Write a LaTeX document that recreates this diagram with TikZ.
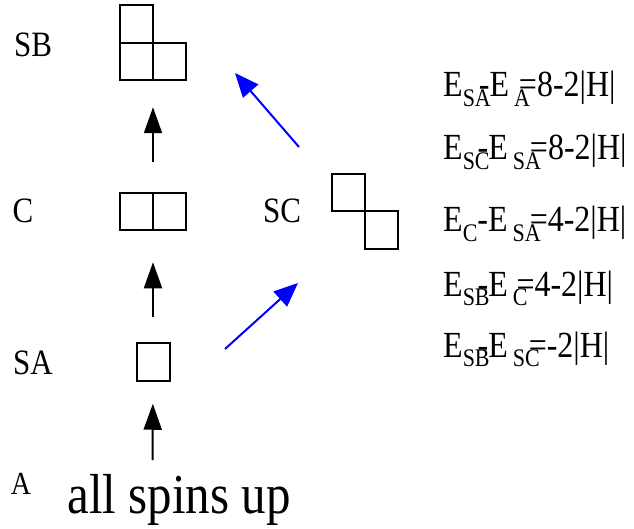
\documentclass[tikz,border=0pt]{standalone}
\usepackage{fontspec}
\usepackage{graphicx}
\setmainfont{Liberation Serif}
\usetikzlibrary{arrows.meta, positioning}

% subscript that is set low and partly run over by what follows
\newcommand{\subE}[2]{\raisebox{-8.5pt}{\fontsize{22}{22}\selectfont #1}\kern-#2}
% the letters of the reference are a little tall
\newcommand{\tall}[1]{\scalebox{1}[1.15]{#1}}

\tikzset{
  cell/.style={draw, line width=2pt, minimum width=33pt, minimum height=37.5pt, inner sep=0pt, outer sep=0pt},
  lbl/.style={font=\fontsize{31}{31}\selectfont, anchor=base, inner sep=0pt},
  eqn/.style={font=\fontsize{32}{32}\selectfont, anchor=base west, inner sep=0pt},
  uparrow/.style={line width=2pt, -{Triangle[length=26pt,width=18pt]}},
  bluearrow/.style={blue, line width=2pt, -{Triangle[length=24pt,width=20pt]}}
}

\begin{document}
\begin{tikzpicture}[x=1pt, y=-1pt]
    \useasboundingbox (0,0) rectangle (634,529);

    % level names
    \node[lbl] (sbname) at (33,57) {\tall{SB}};
    \node[lbl] (cname) at (23,223) {\tall{C}};
    \node[lbl] (scname) at (282,223) {\tall{SC}};
    \node[lbl] (saname) at (33,374) {\tall{SA}};
    \node[lbl, font=\fontsize{28}{28}\selectfont] (aname) at (21,494) {\tall{A}};
    \node[lbl, font=\fontsize{49}{49}\selectfont] (allup) at (179,513) {\tall{all spins up}};

    % spin clusters
    \node[cell] (sb1) at (136.5,24) {};
    \node[cell, below=0pt of sb1] (sb2) {};
    \node[cell, right=0pt of sb2] (sb3) {};
    \node[cell] (c1) at (136.5,211.5) {};
    \node[cell, right=0pt of c1] (c2) {};
    \node[cell] (sa) at (153,362) {};
    \node[cell] (sc1) at (348.5,192.5) {};
    \node[cell, below right=0pt of sc1] (sc2) {};

    % transitions
    \coordinate (abase) at (152.5,460);
    \draw[uparrow, shorten >=23pt] (abase) -- (sa.south);
    \draw[uparrow, shorten <=26pt, shorten >=32pt] (sa.north) -- (c1.south east);
    \draw[uparrow, shorten <=31pt, shorten >=27pt] (c1.north east) -- (sb2.south east);
    \coordinate (satail) at (225,349);
    \coordinate (sctip) at (298,283);
    \coordinate (sctail) at (299,147);
    \coordinate (sbtip) at (235,73);
    \draw[bluearrow] (satail) -- (sctip);
    \draw[bluearrow] (sctail) -- (sbtip);

    % energy differences
    \node[eqn] (eq1) at (443,97) {\tall{E\subE{SA}{12pt}-E\hspace{5pt}\subE{A}{11pt}=8-2|H|}};
    \node[eqn] (eq2) at (443,160) {\tall{E\subE{SC}{12pt}-E\hspace{5pt}\subE{SA}{11pt}=8-2|H|}};
    \node[eqn] (eq3) at (443,232) {\tall{E\subE{C}{0pt}-E\hspace{5pt}\subE{SA}{11pt}=4-2|H|}};
    \node[eqn] (eq4) at (443,296) {\tall{E\subE{SB}{12pt}-E\hspace{5pt}\subE{C}{11pt}=4-2|H|}};
    \node[eqn] (eq5) at (443,357) {\tall{E\subE{SB}{12pt}-E\hspace{5pt}\subE{SC}{11pt}=-2|H|}};
\end{tikzpicture}
\end{document}
